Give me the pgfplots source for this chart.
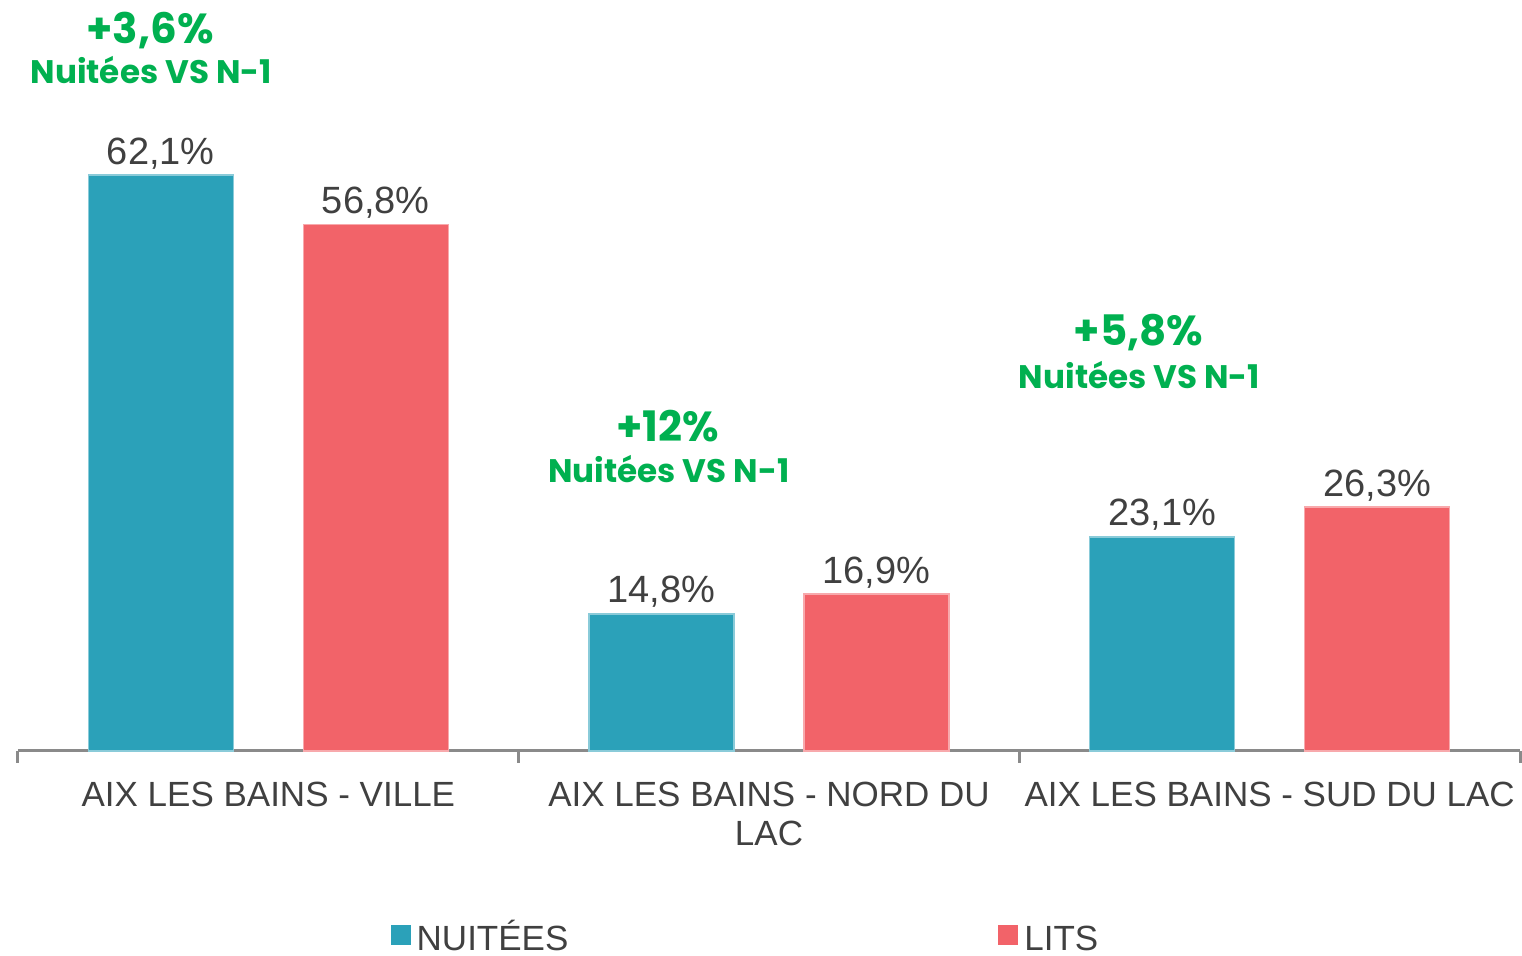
\documentclass[border=0pt]{standalone}
\usepackage{fontspec}
\setmainfont{Liberation Sans}
\newfontfamily\pop{Poppins}
\usepackage{pgfplots}
\pgfplotsset{compat=1.18}
\definecolor{teal1}{HTML}{2BA1B9}
\definecolor{red1}{HTML}{F26369}
\definecolor{grn}{HTML}{00B050}
\definecolor{txt}{HTML}{404040}
\definecolor{axg}{HTML}{8A8A8A}
\begin{document}
\begin{tikzpicture}
\useasboundingbox (0,0) rectangle (761pt,478pt);
\begin{axis}[
  at={(9pt,102.5pt)}, anchor=south west,
  scale only axis, width=751pt, height=375.5pt,
  xmin=-0.5, xmax=2.5, ymin=0, ymax=81,
  axis y line=none, axis x line*=bottom,
  axis line style={draw=axg, line width=1.5pt},
  xtick={0,1,2},
  xticklabels={AIX LES BAINS - VILLE, {AIX LES BAINS - NORD DU\\LAC}, AIX LES BAINS - SUD DU LAC},
  major tick length=0pt,
  minor xtick={-0.5,0.5,1.5,2.5}, minor tick length=6pt, tick align=outside,
  tick style={draw=axg, line width=1.5pt},
  xticklabel style={font=\fontsize{17.5}{19.5}\selectfont, text=txt, align=center, yshift=-12pt},
  /pgf/number format/assume math mode=true,
  clip=false,
  legend columns=2,
  legend style={at={(0.4857,-0.2445)}, anchor=center, draw=none, fill=none,
    font=\fontsize{17.5}{19}\selectfont, text=txt, inner sep=0pt,
    nodes={text height=16pt, text depth=0pt, inner xsep=3pt, inner ysep=0pt},
    /tikz/every even column/.append style={column sep=212pt}},
  legend image code/.code={\fill[#1,draw=none] (0pt,-5pt) rectangle (10pt,5pt);},
  every node near coord/.append style={font=\fontsize{19}{22}\selectfont, text=txt, anchor=base, yshift=5.5pt, inner sep=0pt},
  nodes near coords={\pgfmathprintnumber[fixed,precision=1,zerofill,use comma]{\pgfplotspointmeta}\%},
]
\addplot[ybar, bar width=72.5pt, bar shift=-53.75pt, fill=teal1, draw=teal1!55!white, line width=0.8pt,
  every node near coord/.append style={xshift=-53.75pt}]
  coordinates {(0,62.1) (1,14.8) (2,23.1)};
\addlegendentry{NUITÉES}
\addplot[ybar, bar width=72.5pt, bar shift=53.75pt, fill=red1, draw=red1!55!white, line width=0.8pt,
  every node near coord/.append style={xshift=53.75pt}]
  coordinates {(0,56.8) (1,16.9) (2,26.3)};
\addlegendentry{LITS}
\node[font=\pop\bfseries\fontsize{21}{24}\selectfont, text=grn, anchor=base] at (axis cs:-0.236,76.3) {+3,6\%};
\node[font=\pop\bfseries\fontsize{16.3}{18}\selectfont, text=grn, anchor=base] at (axis cs:-0.234,72.0) {Nuitées VS N-1};
\node[font=\pop\bfseries\fontsize{21}{24}\selectfont, text=grn, anchor=base] at (axis cs:0.798,33.4) {+12\%};
\node[font=\pop\bfseries\fontsize{16.3}{18}\selectfont, text=grn, anchor=base] at (axis cs:0.800,29.0) {Nuitées VS N-1};
\node[font=\pop\bfseries\fontsize{21}{24}\selectfont, text=grn, anchor=base] at (axis cs:1.738,43.7) {+5,8\%};
\node[font=\pop\bfseries\fontsize{16.3}{18}\selectfont, text=grn, anchor=base] at (axis cs:1.740,39.1) {Nuitées VS N-1};
\end{axis}
\end{tikzpicture}
\end{document}
